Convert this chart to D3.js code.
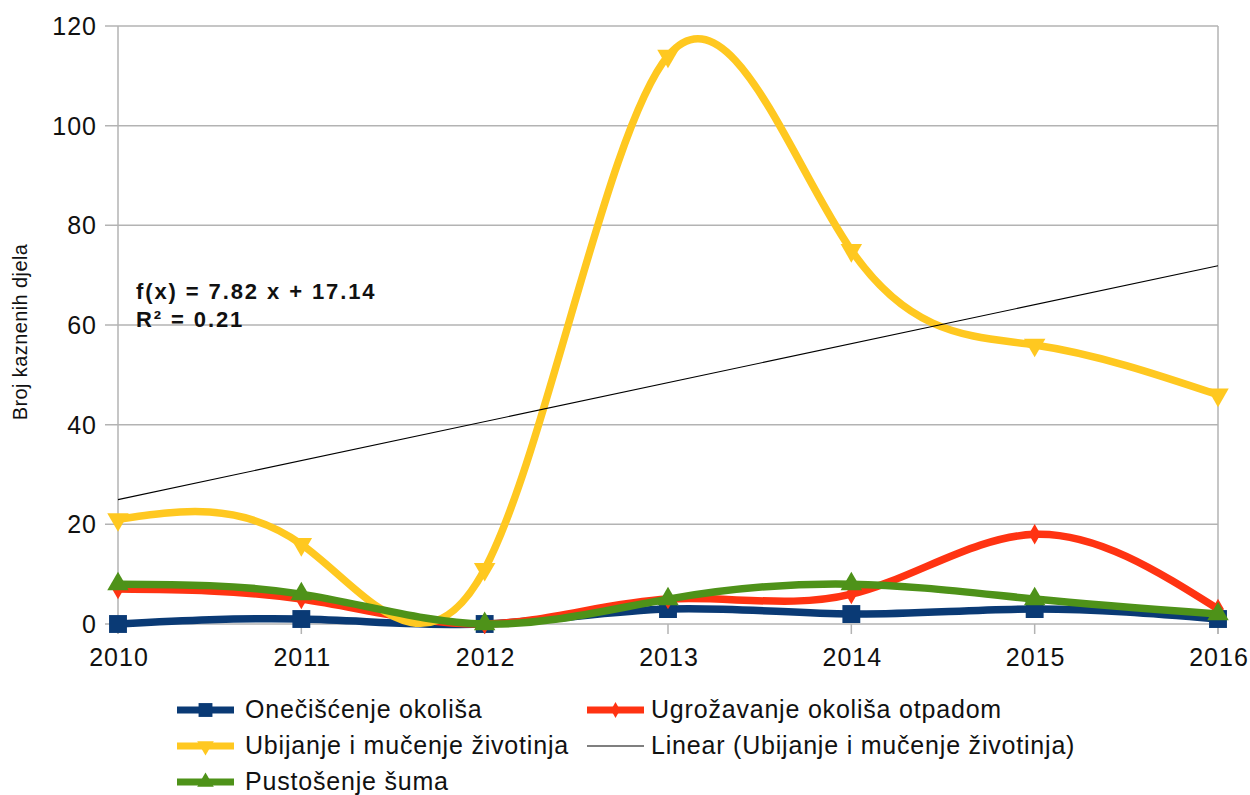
<!DOCTYPE html>
<meta charset="utf-8">
<style>
  body { margin: 0; background: #fff; }
  text { font-family: "Liberation Sans", Arial, sans-serif; fill: #111; }
</style>
<script src="https://d3js.org/d3.v7.min.js"></script>

<div id="my_dataviz"></div>

<script>

var years = [2010, 2011, 2012, 2013, 2014, 2015, 2016]
var onecisc = [0, 1, 0, 3, 2, 3, 1]
var ugrozavanje = [7, 5, 0, 5, 6, 18, 3]
var ubijanje = [21, 16, 11, 114, 75, 56, 46]
var pustosenje = [8, 6, 0, 5, 8, 5, 2]
var yTicks = [0, 20, 40, 60, 80, 100, 120]

var width = 1250
    height = 795

var svg = d3.select("#my_dataviz")
  .append("svg")
    .attr("width", width)
    .attr("height", height)

var x = d3.scaleLinear().domain([2010, 2016]).range([118, 1218])
var y = d3.scaleLinear().domain([0, 120]).range([624, 26])

// grid + frame
svg.selectAll(".grid")
  .data(yTicks)
  .enter()
  .append("line")
    .attr("x1", 105)
    .attr("x2", x(2016))
    .attr("y1", function(d){ return y(d) })
    .attr("y2", function(d){ return y(d) })
    .attr("stroke", "#b3b3b3")
    .attr("stroke-width", 1.5)

svg.selectAll(".frame")
  .data([2010, 2016])
  .enter()
  .append("line")
    .attr("x1", function(d){ return x(d) })
    .attr("x2", function(d){ return x(d) })
    .attr("y1", y(120))
    .attr("y2", y(0) + 10)
    .attr("stroke", "#b3b3b3")
    .attr("stroke-width", 1.5)

svg.selectAll(".xtick")
  .data(years)
  .enter()
  .append("line")
    .attr("x1", function(d){ return x(d) })
    .attr("x2", function(d){ return x(d) })
    .attr("y1", y(0))
    .attr("y2", y(0) + 10)
    .attr("stroke", "#b3b3b3")
    .attr("stroke-width", 1.5)

svg.selectAll(".ylab")
  .data(yTicks)
  .enter()
  .append("text")
    .attr("x", 97)
    .attr("y", function(d){ return y(d) + 9 })
    .attr("text-anchor", "end")
    .style("font-size", "25px")
    .style("letter-spacing", "1px")
    .text(function(d){ return d })

svg.selectAll(".xlab")
  .data(years)
  .enter()
  .append("text")
    .attr("x", function(d){ return x(d) + 1 })
    .attr("y", 666)
    .attr("text-anchor", "middle")
    .style("font-size", "25px")
    .style("letter-spacing", "1px")
    .text(function(d){ return d })

svg.append("text")
  .attr("transform", "translate(27,332) rotate(-90)")
  .attr("text-anchor", "middle")
  .style("font-size", "20px")
  .style("letter-spacing", "0.4px")
  .text("Broj kaznenih djela")

// series
var series = [
  {name: "Onečišćenje okoliša", values: onecisc, color: "#0a3a75", sym: d3.symbolSquare, size: 320, rot: 0},
  {name: "Ugrožavanje okoliša otpadom", values: ugrozavanje, color: "#ff3312", sym: d3.symbolDiamond, size: 120, rot: 0},
  {name: "Ubijanje i mučenje životinja", values: ubijanje, color: "#ffc820", sym: d3.symbolTriangle, size: 200, rot: 180},
  {name: "Pustošenje šuma", values: pustosenje, color: "#4e9219", sym: d3.symbolTriangle, size: 200, rot: 0}
]

// linear trend of Ubijanje (x = 1..7)
var n = ubijanje.length
var mx = d3.mean(ubijanje, function(d, i){ return i + 1 })
var my = d3.mean(ubijanje)
var sxy = d3.sum(ubijanje, function(d, i){ return (i + 1 - mx) * (d - my) })
var sxx = d3.sum(ubijanje, function(d, i){ return (i + 1 - mx) * (i + 1 - mx) })
var slope = sxy / sxx
var intercept = my - slope * mx
var r2 = (slope * slope * sxx) / d3.sum(ubijanje, function(d){ return (d - my) * (d - my) })

var line = d3.line()
  .x(function(d, i){ return x(years[i]) })
  .y(function(d){ return y(d) })
  .curve(d3.curveNatural)

series.forEach(function(s, k) {
  svg.append("path")
    .attr("d", line(s.values))
    .attr("fill", "none")
    .attr("stroke", s.color)
    .attr("stroke-width", 7.5)
    .attr("stroke-linejoin", "round")

  svg.selectAll(".m" + k)
    .data(s.values)
    .enter()
    .append("path")
      .attr("d", d3.symbol().type(s.sym).size(s.size))
      .attr("transform", function(d, i){ return "translate(" + x(years[i]) + "," + y(d) + ") rotate(" + s.rot + ")" })
      .attr("fill", s.color)

  if (k == 2) {
    svg.append("line")
      .attr("x1", x(2010))
      .attr("x2", x(2016))
      .attr("y1", y(slope * 1 + intercept))
      .attr("y2", y(slope * n + intercept))
      .attr("stroke", "#000")
      .attr("stroke-width", 1.2)
  }
})

svg.append("text")
  .attr("x", 136)
  .attr("y", 299)
  .style("font-size", "22px")
  .style("font-weight", "bold")
  .style("letter-spacing", "1.9px")
  .text("f(x) = " + slope.toFixed(2) + " x + " + intercept.toFixed(2))

svg.append("text")
  .attr("x", 136)
  .attr("y", 327)
  .style("font-size", "22px")
  .style("font-weight", "bold")
  .style("letter-spacing", "1.9px")
  .text("R² = " + r2.toFixed(2))

// legend
var legendItems = [
  {s: series[0], lx: 177, ly: 710},
  {s: series[1], lx: 587, ly: 710},
  {s: series[2], lx: 177, ly: 746},
  {s: {name: "Linear (Ubijanje i mučenje životinja)", color: "#000", trend: true}, lx: 587, ly: 746},
  {s: series[3], lx: 177, ly: 782}
]

var lg = svg.selectAll(".legend")
  .data(legendItems)
  .enter()
  .append("g")
    .attr("transform", function(d){ return "translate(" + d.lx + "," + d.ly + ")" })

lg.append("line")
  .attr("x1", 0)
  .attr("x2", 57)
  .attr("stroke", function(d){ return d.s.color })
  .attr("stroke-width", function(d){ return d.s.trend ? 1.2 : 7 })

lg.filter(function(d){ return !d.s.trend })
  .append("path")
    .attr("d", function(d){ return d3.symbol().type(d.s.sym).size(d.s.size * 0.6)() })
    .attr("transform", function(d){ return "translate(28.5,0) rotate(" + d.s.rot + ")" })
    .attr("fill", function(d){ return d.s.color })

lg.append("text")
  .attr("x", function(d){ return d.lx < 300 ? 68 : 64 })
  .attr("y", 8)
  .style("font-size", "25px")
  .style("letter-spacing", "0.8px")
  .text(function(d){ return d.s.name })

</script>
